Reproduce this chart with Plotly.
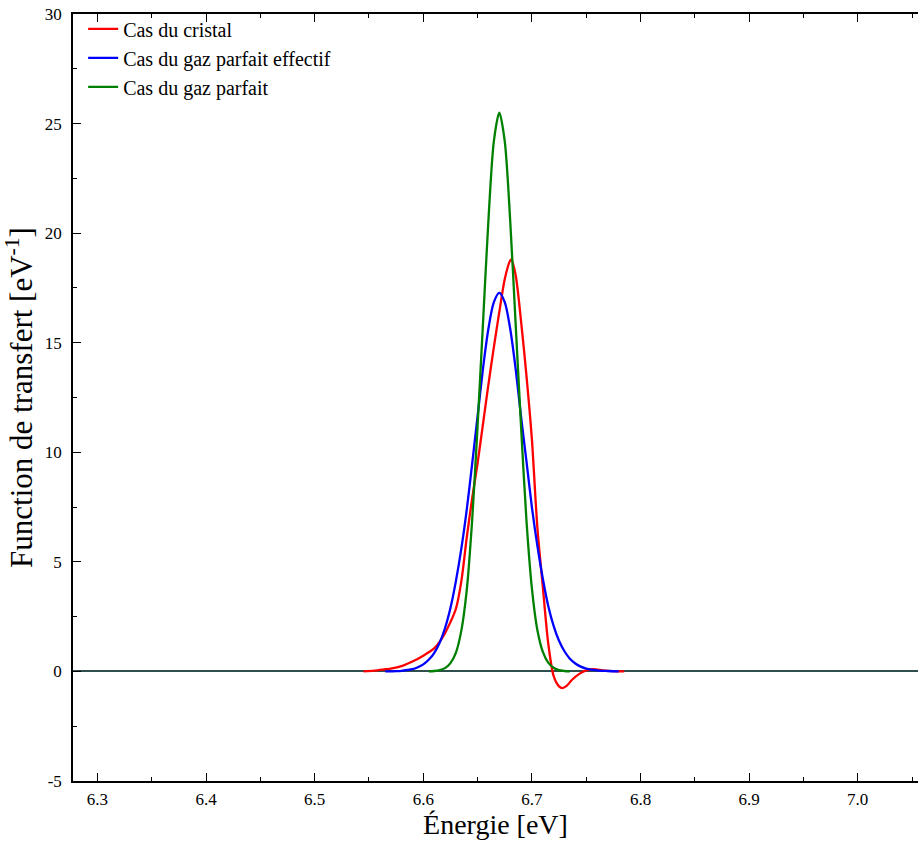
import plotly.graph_objects as go

# ---- data ----
crystal_E = [6.545, 6.555, 6.565, 6.570, 6.580, 6.590, 6.600, 6.610, 6.615, 6.620,
             6.625, 6.630, 6.635, 6.640, 6.645, 6.650, 6.655, 6.660, 6.665, 6.670, 6.675, 6.680,
             6.681, 6.685, 6.690, 6.695, 6.700, 6.705, 6.710, 6.715, 6.720, 6.725, 6.728, 6.732,
             6.737, 6.744, 6.750, 6.757, 6.765, 6.775, 6.785]
crystal_T = [0.0, 0.04, 0.10, 0.13, 0.24, 0.45, 0.72, 1.05, 1.35, 1.75,
             2.25, 2.85, 4.1, 6.1, 7.9, 9.5, 11.3, 13.1, 14.8, 16.4, 17.9, 18.75,
             18.8, 18.1, 16.0, 13.5, 10.6, 6.6, 3.9, 1.3, -0.2, -0.68, -0.76, -0.66,
             -0.38, -0.1, 0.05, 0.1, 0.05, 0.01, 0.0]

eff_E = [6.565, 6.575, 6.580, 6.590, 6.595, 6.600, 6.605, 6.610, 6.615, 6.620, 6.625, 6.630,
         6.635, 6.640, 6.645, 6.650, 6.655, 6.660, 6.665, 6.670, 6.675, 6.680, 6.685, 6.690,
         6.695, 6.700, 6.705, 6.710, 6.715, 6.720, 6.725, 6.730, 6.735, 6.740, 6.745, 6.750,
         6.760, 6.770, 6.780]
eff_T = [0.0, 0.015, 0.03, 0.10, 0.19, 0.32, 0.53, 0.84, 1.30, 1.97, 2.89, 4.11,
         5.59, 7.37, 9.47, 11.64, 13.83, 15.65, 16.85, 17.27, 16.85, 15.65, 13.83, 11.64,
         9.6, 7.5, 5.75, 4.25, 3.0, 2.08, 1.4, 0.92, 0.58, 0.36, 0.22, 0.13,
         0.05, 0.02, 0.0]

ideal_E = [6.605, 6.610, 6.615, 6.620, 6.625, 6.630, 6.635, 6.640, 6.645, 6.650, 6.655, 6.660,
           6.665, 6.670, 6.675, 6.680, 6.685, 6.690, 6.695, 6.700, 6.705, 6.710, 6.715, 6.720,
           6.725, 6.730, 6.735]
ideal_T = [0.0, 0.02, 0.06, 0.15, 0.38, 0.85, 1.85, 3.7, 6.9, 11.2, 15.9, 20.6,
           24.2, 25.5, 24.2, 20.6, 15.9, 11.2, 6.9, 3.8, 1.9, 0.9, 0.4, 0.17,
           0.06, 0.02, 0.0]

series_names = ["Cas du cristal", "Cas du gaz parfait effectif", "Cas du gaz parfait"]
series_colors = ["#ff0000", "#0000ff", "#008000"]

x_ticks = [6.3, 6.4, 6.5, 6.6, 6.7, 6.8, 6.9, 7.0]
y_ticks = [-5, 0, 5, 10, 15, 20, 25, 30]
y_labels = ["-5", "0", "5", "10", "15", "20", "25", "30"]

FONT = "Liberation Serif"

fig = go.Figure()
for E, T, name, col in zip([crystal_E, eff_E, ideal_E], [crystal_T, eff_T, ideal_T],
                           series_names, series_colors):
    fig.add_trace(go.Scatter(x=E, y=T, mode="lines", name=name,
                             line=dict(color=col, width=2.3, shape="spline", smoothing=0.8)))

axis_common = dict(showline=True, linecolor="black", linewidth=1.5,
                   ticks="inside", ticklen=8, tickwidth=1.2, tickcolor="black",
                   showgrid=False, tickfont=dict(family=FONT, size=17, color="black"))

fig.update_layout(
    width=918, height=842,
    margin=dict(l=73, r=0, t=14, b=61),
    paper_bgcolor="white", plot_bgcolor="white",
    font=dict(family=FONT, color="black"),
    showlegend=True,
    legend=dict(x=0.012, y=1.006, xanchor="left", yanchor="top",
                bgcolor="rgba(0,0,0,0)", borderwidth=0,
                font=dict(family=FONT, size=20, color="black"),
                tracegroupgap=0, itemwidth=30),
    xaxis=dict(range=[6.2775, 7.0555], tickmode="array", tickvals=x_ticks,
               tickformat=".1f", mirror="ticks",
               minor=dict(tickmode="linear", tick0=6.25, dtick=0.05, ticks="inside",
                          ticklen=4, tickwidth=1.2, tickcolor="black"),
               title=dict(text="Énergie [eV]", font=dict(family=FONT, size=28), standoff=6),
               zeroline=False, ticklabelstandoff=2, **axis_common),
    yaxis=dict(range=[-5, 30], tickmode="array", tickvals=y_ticks, ticktext=y_labels,
               mirror=False,
               minor=dict(tickmode="linear", tick0=-5, dtick=2.5, ticks="inside",
                          ticklen=4, tickwidth=1.2, tickcolor="black"),
               title=dict(text="Function de transfert [eV<sup>-1</sup>]",
                          font=dict(family=FONT, size=31), standoff=4),
               zeroline=True, zerolinecolor="#2f4f4f", zerolinewidth=2.2,
               ticklabelstandoff=6, **axis_common),
)

fig.write_html("out.html", config={"displayModeBar": False},
               post_script="document.body.style.margin='0';document.body.style.overflow='hidden';")
